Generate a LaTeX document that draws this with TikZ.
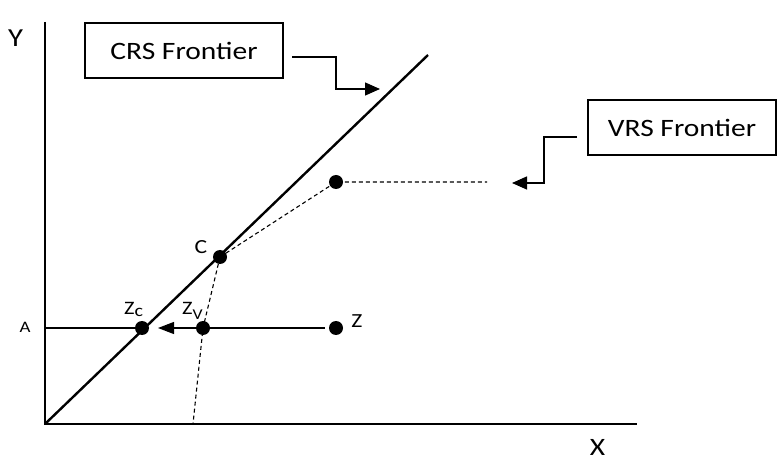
\documentclass[tikz,border=0pt]{standalone}
\usepackage{fontspec}
\setmainfont[FakeStretch=1.18]{Carlito}
\usetikzlibrary{arrows.meta}
\tikzset{
  axisline/.style={line width=1.4pt},
  frontier/.style={line width=2.4pt},
  dashline/.style={line width=1.1pt, dash pattern=on 4pt off 3pt},
  dotnode/.style={circle, fill=black, inner sep=0pt, minimum size=14pt},
  labelbox/.style={draw, line width=1.3pt, inner sep=0pt, font=\fontsize{25}{30}\selectfont},
  pointer/.style={line width=1.3pt, -{Triangle[length=15pt,width=13pt]}},
  lbl/.style={inner sep=0pt},
}
\begin{document}
\begin{tikzpicture}[x=1pt,y=-1pt]
\useasboundingbox (0,0) rectangle (779,462);
% axes
\coordinate (O) at (45,424);
\coordinate (Ytop) at (45,22);
\coordinate (Xend) at (637,424);
\draw[axisline] (Ytop) -- (O) -- (Xend);
\node[lbl, font=\fontsize{26}{30}\selectfont] (ylab) at (15.5,38.5) {Y};
\node[lbl, font=\fontsize{25}{30}\selectfont] (xlab) at (597.5,447) {X};
% CRS frontier
\coordinate (crsend) at (428,55);
\draw[frontier] (O) -- (crsend);
% points
\node[dotnode] (C) at (220,257) {};
\node[dotnode] (P) at (336,182) {};
\node[dotnode] (Zc) at (142,328) {};
\node[dotnode] (Zv) at (203,328) {};
\node[dotnode] (Z) at (336,328) {};
\coordinate (vrsend) at (487,182);
\coordinate (Zvbot) at (193,424);
\coordinate (Aend) at (45,328);
\coordinate (tip) at (158,328);
% VRS frontier
\draw[dashline] (C.center) -- (P.center) -- (vrsend);
\draw[dashline] (C.center) -- (Zv.center) -- (Zvbot);
% projections
\draw[line width=1.1pt] (Aend) -- (Zc.center);
\draw[line width=1.3pt, -{Triangle[length=16pt,width=12pt]}] ([xshift=-4pt]Z.west) -- (tip);
% labels
\node[lbl, font=\fontsize{20}{24}\selectfont] (clab) at (201,247) {C};
\node[lbl, font=\fontsize{16}{20}\selectfont] (alab) at (25,327) {A};
\node[lbl, font=\fontsize{20}{24}\selectfont] (zlab) at (357,321) {Z};
\node[lbl, font=\fontsize{19}{22}\selectfont, anchor=base west] (zclab) at (124,315) {Z\raisebox{-0.2ex}{\fontsize{17}{20}\selectfont c}};
\node[lbl, font=\fontsize{19}{22}\selectfont, anchor=base west] (zvlab) at (182,315) {Z\raisebox{-0.45ex}{\fontsize{15}{18}\selectfont V}};
% boxes
\node[labelbox, minimum width=198pt, minimum height=55pt] (crs) at (184,50.5) {CRS Frontier};
\node[labelbox, minimum width=188pt, minimum height=55pt] (vrs) at (682,127.5) {VRS Frontier};
% pointers
\coordinate (crsA) at (292,57);
\coordinate (crsB) at (336,57);
\coordinate (crsC) at (336,89);
\coordinate (crsD) at (380,89);
\draw[pointer] (crsA) -- (crsB) -- (crsC) -- (crsD);
\coordinate (vrsA) at (577,137);
\coordinate (vrsB) at (544,137);
\coordinate (vrsC) at (544,183);
\coordinate (vrsD) at (512,183);
\draw[pointer] (vrsA) -- (vrsB) -- (vrsC) -- (vrsD);
\end{tikzpicture}
\end{document}
